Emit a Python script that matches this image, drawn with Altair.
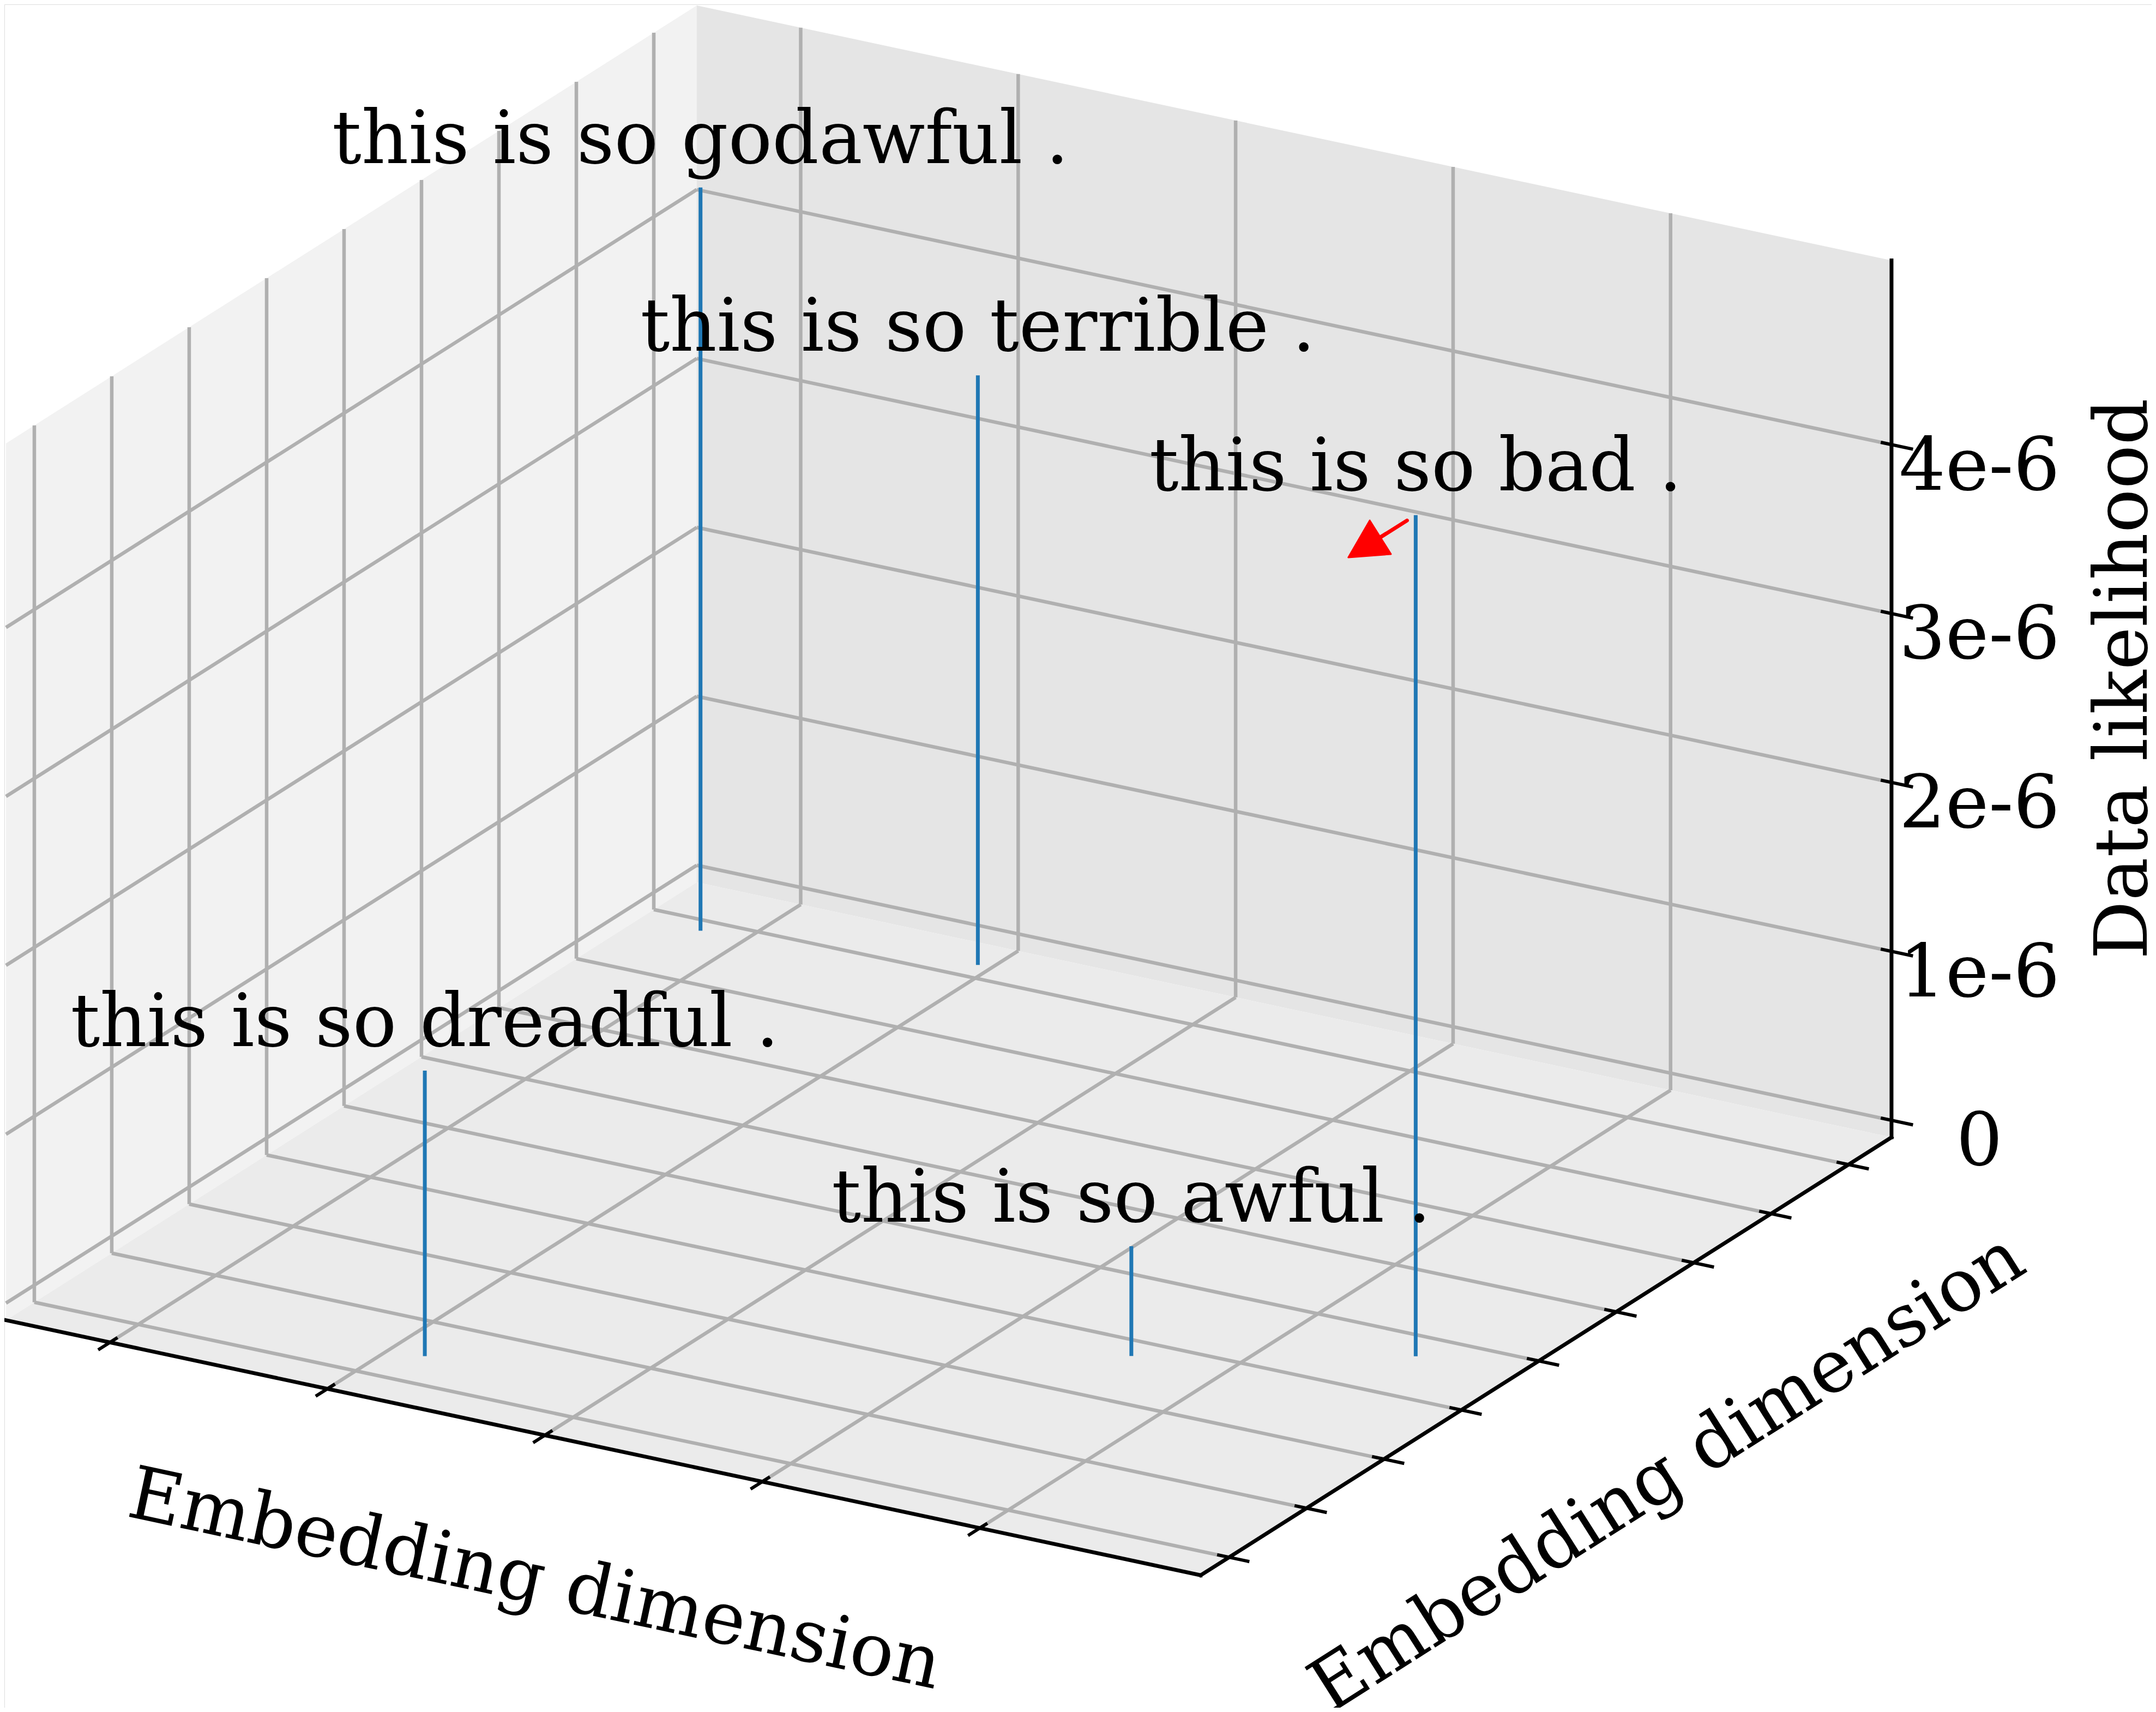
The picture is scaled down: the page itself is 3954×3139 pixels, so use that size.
import math
import pandas as pd
import altair as alt

# ---------------- data ----------------
SENTENCES = [
    "this is so godawful .",
    "this is so terrible .",
    "this is so bad .",
    "this is so dreadful .",
    "this is so awful .",
]
EMB_X = [-0.11, 1.03, 4.66, 1.25, 3.68]          # first embedding dimension
EMB_Y = [7.57, 7.95, 3.41, 0.19, 2.49]           # second embedding dimension
LIKELIHOOD = [4.40e-6, 3.49e-6, 4.98e-6, 1.69e-6, 0.65e-6]
ANNOTATED = "this is so bad ."

X_TICKS = [0, 1, 2, 3, 4]
Y_TICKS = [0, 1, 2, 3, 4, 5, 6, 7, 8]
Z_TICKS = [0.0, 1e-6, 2e-6, 3e-6, 4e-6]
Z_TICK_LABELS = ["0", "1e-6", "2e-6", "3e-6", "4e-6"]
X_LIM = [-0.478, 5.016]
Y_LIM = [-0.366, 8.555]
Z_LIM = [-0.101e-6, 5.09e-6]
X_TITLE = "Embedding dimension"
Y_TITLE = "Embedding dimension"
Z_TITLE = "Data likelihood"

# ---------------- camera (view of the unit box on the canvas) ----------------
CANVAS_W, CANVAS_H = 3954, 3139
PLOT_W, PLOT_H = 3938, 3123
ORIGIN = (3.0, 2425.0)
EDGE_X = (2200.0, 470.0)
EDGE_Y = (1272.0, -807.0)
EDGE_Z = (0.0, -1616.0)

FONT = "DejaVu Serif"
FS = 134
GRID_COLOR = "#b0b0b0"
STEM_COLOR = "#1f77b4"
PANE_NAMES = ["left", "back", "floor"]
PANE_COLORS = ["#f2f2f2", "#e5e5e5", "#ebebeb"]


def box(a, b, c):
    return (ORIGIN[0] + a * EDGE_X[0] + b * EDGE_Y[0] + c * EDGE_Z[0],
            ORIGIN[1] + a * EDGE_X[1] + b * EDGE_Y[1] + c * EDGE_Z[1])


def norm(v, lim):
    return (v - lim[0]) / (lim[1] - lim[0])


def project(x, y, z):
    return box(norm(x, X_LIM), norm(y, Y_LIM), norm(z, Z_LIM))


def seg(p, q, **kw):
    d = dict(x=p[0], y=p[1], x2=q[0], y2=q[1])
    d.update(kw)
    return d


def span_rows(name, verts):
    xs = sorted(set(round(v[0], 6) for v in verts))
    rows = []
    n = len(verts)
    for x in xs:
        ys = []
        for i in range(n):
            (x1, y1), (x2, y2) = verts[i], verts[(i + 1) % n]
            lo, hi = min(x1, x2), max(x1, x2)
            if hi - lo < 1e-9:
                if abs(x - x1) < 1e-6:
                    ys += [y1, y2]
            elif lo - 1e-6 <= x <= hi + 1e-6:
                t = (x - x1) / (x2 - x1)
                ys.append(y1 + t * (y2 - y1))
        rows.append(dict(pane=name, x=x, y=min(ys), y2=max(ys)))
    return rows


# panes
panes = []
panes += span_rows("left", [box(0, 0, 0), box(0, 1, 0), box(0, 1, 1), box(0, 0, 1)])
panes += span_rows("back", [box(0, 1, 0), box(1, 1, 0), box(1, 1, 1), box(0, 1, 1)])
panes += span_rows("floor", [box(0, 0, 0), box(1, 0, 0), box(1, 1, 0), box(0, 1, 0)])
panes_df = pd.DataFrame(panes)

# grid lines
grid = []
for xt in X_TICKS:
    a = norm(xt, X_LIM)
    grid.append(seg(box(a, 0, 0), box(a, 1, 0)))
    grid.append(seg(box(a, 1, 0), box(a, 1, 1)))
for yt in Y_TICKS:
    b = norm(yt, Y_LIM)
    grid.append(seg(box(0, b, 0), box(1, b, 0)))
    grid.append(seg(box(0, b, 0), box(0, b, 1)))
for zt in Z_TICKS:
    c = norm(zt, Z_LIM)
    grid.append(seg(box(0, 0, c), box(0, 1, c)))
    grid.append(seg(box(0, 1, c), box(1, 1, c)))
grid_df = pd.DataFrame(grid)

# axis lines
axes_df = pd.DataFrame([
    seg(box(0, 0, 0), box(1, 0, 0)),
    seg(box(1, 0, 0), box(1, 1, 0)),
    seg(box(1, 1, 0), box(1, 1, 1)),
])

# tick marks
ticks = []
for xt in X_TICKS:
    a = norm(xt, X_LIM)
    ticks.append(seg(box(a, -0.017, 0), box(a, 0.011, 0)))
for yt in Y_TICKS:
    b = norm(yt, Y_LIM)
    ticks.append(seg(box(0.990, b, 0), box(1.017, b, 0)))
for zt in Z_TICKS:
    c = norm(zt, Z_LIM)
    ticks.append(seg(box(0.991, 1, c), box(1.018, 1, c)))
ticks_df = pd.DataFrame(ticks)

# z tick labels
zlab = []
for zt, lab in zip(Z_TICKS, Z_TICK_LABELS):
    px, py = box(1.0736, 1, norm(zt, Z_LIM))
    zlab.append(dict(x=px, y=py, text=lab))
zlab_df = pd.DataFrame(zlab)

# axis titles
ax_ang = math.degrees(math.atan2(EDGE_X[1], EDGE_X[0]))
ay_ang = math.degrees(math.atan2(EDGE_Y[1], EDGE_Y[0])) % 360
titles = []
for (a, b, c), text, ang in [((0.607, -0.291, 0), X_TITLE, ax_ang),
                             ((1.218, 0.316, 0), Y_TITLE, ay_ang),
                             ((1.2135, 1.0, 0.585), Z_TITLE, 270)]:
    px, py = box(a, b, c)
    titles.append(dict(x=px, y=py, text=text, angle=ang))
titles_df = pd.DataFrame(titles)

# stems and sentence labels
stems, labels = [], []
for s, ex, ey, lk in zip(SENTENCES, EMB_X, EMB_Y, LIKELIHOOD):
    bot = project(ex, ey, 0.0)
    top = project(ex, ey, lk)
    stems.append(seg(bot, top, sentence=s))
    labels.append(dict(x=top[0], y=top[1], text=s))
stems_df = pd.DataFrame(stems)
labels_df = pd.DataFrame(labels)

# red annotation arrow (offsets in px from the annotated point)
i_ann = SENTENCES.index(ANNOTATED)
ptop = project(EMB_X[i_ann], EMB_Y[i_ann], LIKELIHOOD[i_ann])
ARROW_TAIL_OFF = (-16, 10)
ARROW_TIP_OFF = (-124, 78)
tail = (ptop[0] + ARROW_TAIL_OFF[0], ptop[1] + ARROW_TAIL_OFF[1])
tip = (ptop[0] + ARROW_TIP_OFF[0], ptop[1] + ARROW_TIP_OFF[1])
dxa, dya = tip[0] - tail[0], tip[1] - tail[1]
La = math.hypot(dxa, dya)
ux, uy = dxa / La, dya / La
shaft_end = (tip[0] - 40 * ux, tip[1] - 40 * uy)
shaft_df = pd.DataFrame([seg(tail, shaft_end)])
head_angle = math.degrees(math.atan2(ux, -uy)) % 360
head_df = pd.DataFrame([dict(x=tip[0], y=tip[1], angle=head_angle)])

# ---------------- chart ----------------
XS = alt.Scale(domain=[0, CANVAS_W], nice=False, zero=False)
YS = alt.Scale(domain=[CANVAS_H, 0], nice=False, zero=False)


def xy():
    return dict(x=alt.X("x:Q", scale=XS, axis=None),
                y=alt.Y("y:Q", scale=YS, axis=None, stack=None))


pane_layer = alt.Chart(panes_df).mark_area(interpolate="linear", opacity=1).encode(
    y2="y2:Q",
    color=alt.Color("pane:N", scale=alt.Scale(domain=PANE_NAMES, range=PANE_COLORS), legend=None),
    detail="pane:N",
    **xy(),
)

grid_layer = alt.Chart(grid_df).mark_rule(color=GRID_COLOR, strokeWidth=6.5).encode(
    x2="x2:Q", y2="y2:Q", **xy())
axes_layer = alt.Chart(axes_df).mark_rule(color="black", strokeWidth=7, strokeCap="square").encode(
    x2="x2:Q", y2="y2:Q", **xy())
ticks_layer = alt.Chart(ticks_df).mark_rule(color="black", strokeWidth=6).encode(
    x2="x2:Q", y2="y2:Q", **xy())
stems_layer = alt.Chart(stems_df).mark_rule(color=STEM_COLOR, strokeWidth=7).encode(
    x2="x2:Q", y2="y2:Q", **xy())

labels_layer = alt.Chart(labels_df).mark_text(
    font=FONT, fontSize=FS, align="center", baseline="alphabetic", dy=-45, color="black"
).encode(text="text:N", **xy())

zlab_layer = alt.Chart(zlab_df).mark_text(
    font=FONT, fontSize=FS, align="center", baseline="alphabetic", dy=48, color="black"
).encode(text="text:N", **xy())

titles_layer = alt.Chart(titles_df).mark_text(
    font=FONT, fontSize=FS, align="center", baseline="alphabetic", color="black"
).encode(text="text:N", angle=alt.Angle("angle:Q", scale=None), **xy())

shaft_layer = alt.Chart(shaft_df).mark_rule(color="red", strokeWidth=7, strokeCap="round").encode(
    x2="x2:Q", y2="y2:Q", **xy())
head_layer = alt.Chart(head_df).mark_point(
    shape="M0,0L-1,1.9L1,1.9Z", filled=True, color="red", opacity=1, size=5329,
    strokeWidth=3, stroke="red", strokeJoin="round"
).encode(angle=alt.Angle("angle:Q", scale=None), **xy())

chart = alt.layer(
    pane_layer, grid_layer, axes_layer, ticks_layer, stems_layer,
    labels_layer, zlab_layer, titles_layer, shaft_layer, head_layer,
).properties(
    width=PLOT_W, height=PLOT_H, padding=0,
    autosize=alt.AutoSizeParams(type="none"),
).configure_view(stroke=None).configure(background="white")

chart.save("out.html", embed_options={"renderer": "svg", "actions": False})
